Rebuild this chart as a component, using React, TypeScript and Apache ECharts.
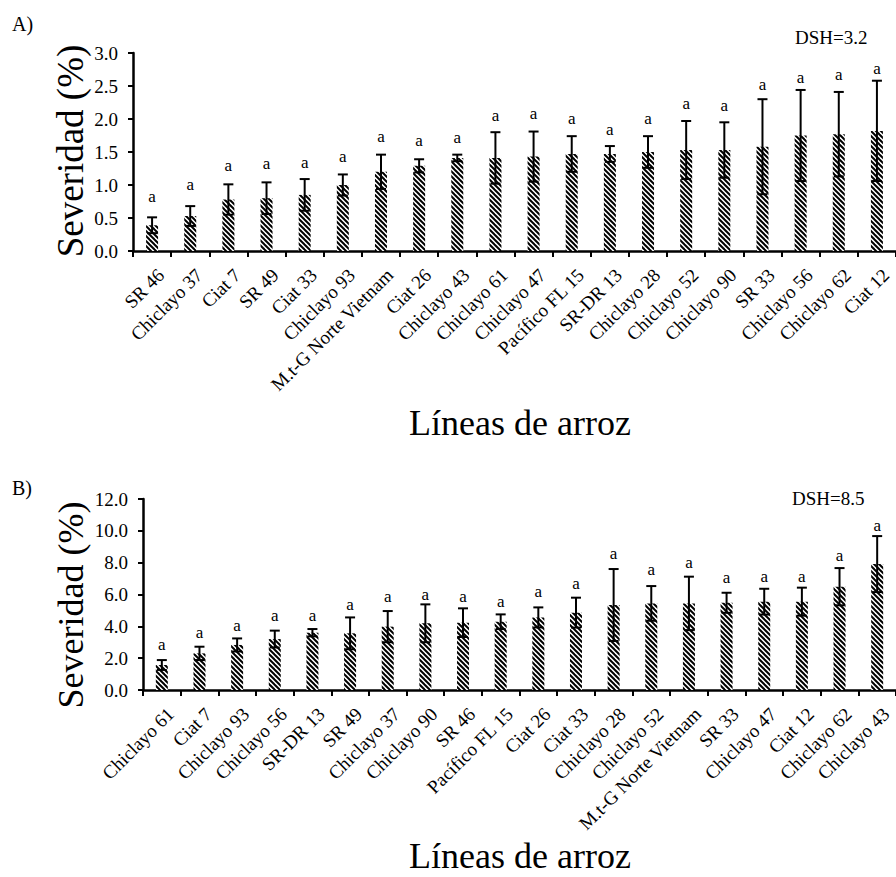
import React, { useEffect, useRef } from "react";
import * as echarts from "echarts";

// ---------- Data (A) ----------
const categoriesA = [
  "SR 46", "Chiclayo 37", "Ciat 7", "SR 49", "Ciat 33", "Chiclayo 93",
  "M.t-G Norte Vietnam", "Ciat 26", "Chiclayo 43", "Chiclayo 61", "Chiclayo 47",
  "Pacífico FL 15", "SR-DR 13", "Chiclayo 28", "Chiclayo 52", "Chiclayo 90",
  "SR 33", "Chiclayo 56", "Chiclayo 62", "Ciat 12",
];
const meansA = [0.39, 0.53, 0.78, 0.80, 0.85, 1.00, 1.20, 1.29, 1.41, 1.41, 1.43, 1.47, 1.47, 1.50, 1.53, 1.53, 1.58, 1.75, 1.77, 1.82];
const errorsA = [0.12, 0.15, 0.23, 0.24, 0.24, 0.16, 0.26, 0.10, 0.05, 0.39, 0.38, 0.27, 0.12, 0.24, 0.44, 0.42, 0.72, 0.69, 0.64, 0.76];
const letterPosA = [0.82, 1.01, 1.30, 1.33, 1.34, 1.43, 1.74, 1.67, 1.72, 2.05, 2.09, 2.01, 1.84, 2.01, 2.24, 2.20, 2.53, 2.63, 2.67, 2.77];
const lettersA = ["a", "a", "a", "a", "a", "a", "a", "a", "a", "a", "a", "a", "a", "a", "a", "a", "a", "a", "a", "a"];
const yTicksA = [0, 0.5, 1.0, 1.5, 2.0, 2.5, 3.0];

// ---------- Data (B) ----------
const categoriesB = [
  "Chiclayo 61", "Ciat 7", "Chiclayo 93", "Chiclayo 56", "SR-DR 13", "SR 49",
  "Chiclayo 37", "Chiclayo 90", "SR 46", "Pacífico FL 15", "Ciat 26", "Ciat 33",
  "Chiclayo 28", "Chiclayo 52", "M.t-G Norte Vietnam", "SR 33", "Chiclayo 47",
  "Ciat 12", "Chiclayo 62", "Chiclayo 43",
];
const meansB = [1.57, 2.30, 2.83, 3.20, 3.60, 3.56, 3.98, 4.19, 4.23, 4.29, 4.56, 4.86, 5.34, 5.44, 5.44, 5.48, 5.55, 5.55, 6.49, 7.91];
const errorsB = [0.31, 0.42, 0.41, 0.53, 0.23, 1.00, 0.98, 1.19, 0.90, 0.46, 0.63, 0.94, 2.26, 1.09, 1.68, 0.63, 0.81, 0.88, 1.17, 1.76];
const letterPosB = [2.83, 3.60, 4.08, 4.67, 4.71, 5.40, 5.86, 6.03, 5.86, 5.55, 6.18, 6.70, 8.58, 7.54, 8.04, 7.05, 7.12, 7.16, 8.42, 10.36];
const lettersB = ["a", "a", "a", "a", "a", "a", "a", "a", "a", "a", "a", "a", "a", "a", "a", "a", "a", "a", "a", "a"];
const yTicksB = [0, 2, 4, 6, 8, 10, 12];

const texts = {
  panelA: "A)",
  panelB: "B)",
  dshA: "DSH=3.2",
  dshB: "DSH=8.5",
  yTitle: "Severidad (%)",
  xTitle: "Líneas de arroz",
};

const FONT = "Liberation Serif";

function makeHatch(): string {
  const c = document.createElement("canvas");
  const s = 5;
  c.width = s;
  c.height = s;
  const ctx = c.getContext("2d")!;
  ctx.fillStyle = "#ffffff";
  ctx.fillRect(0, 0, s, s);
  ctx.strokeStyle = "#000000";
  ctx.lineWidth = 2;
  for (const k of [-s, 0, s]) {
    ctx.beginPath();
    ctx.moveTo(k - 1, -1);
    ctx.lineTo(k + s + 1, s + 1);
    ctx.stroke();
  }
  return c.toDataURL();
}

const txt = (text: string, size: number, extra: any = {}) => ({
  text,
  fontFamily: FONT,
  fontSize: size,
  fill: "#000",
  ...extra,
});

export default function App() {
  const ref = useRef<HTMLDivElement>(null);

  useEffect(() => {
    if (!ref.current) return;
    const chart = echarts.init(ref.current, null, { renderer: "svg" });
    const hatch = { image: makeHatch(), repeat: "repeat", imageWidth: 5, imageHeight: 5 } as any;

    const makeRender = (letters: string[]) => (params: any, api: any) => {
      const i = api.value(0);
      const m = api.value(1);
      const e = api.value(2);
      const ly = api.value(3);
      const top = api.coord([i, m + e]);
      const bot = api.coord([i, m - e]);
      const lp = api.coord([i, ly]);
      const cap = 5;
      const st = { stroke: "#000", lineWidth: 2 };
      return {
        type: "group",
        children: [
          { type: "line", shape: { x1: top[0], y1: top[1], x2: bot[0], y2: bot[1] }, style: st },
          { type: "line", shape: { x1: top[0] - cap, y1: top[1], x2: top[0] + cap, y2: top[1] }, style: st },
          { type: "line", shape: { x1: bot[0] - cap, y1: bot[1], x2: bot[0] + cap, y2: bot[1] }, style: st },
          {
            type: "text",
            x: lp[0],
            y: lp[1],
            style: txt(letters[params.dataIndex], 17, { align: "center", verticalAlign: "middle" }),
          },
        ],
      };
    };

    const xAxisCommon = {
      type: "category",
      axisLine: { lineStyle: { color: "#000", width: 2.5 } },
      axisTick: { show: true, length: 6, lineStyle: { color: "#000", width: 2 } },
      axisLabel: {
        interval: 0,
        rotate: 45,
        fontFamily: FONT,
        fontSize: 19,
        color: "#000",
        margin: 12,
        verticalAlign: "top",
        padding: [3, 0, 0, 0],
      },
      splitLine: { show: false },
    };
    const yAxisCommon = {
      type: "value",
      axisLine: { show: true, lineStyle: { color: "#000", width: 2.5 } },
      axisTick: { show: true, length: 5, lineStyle: { color: "#000", width: 2 } },
      axisLabel: {
        fontFamily: FONT,
        fontSize: 19,
        color: "#000",
        margin: 15,
        formatter: (v: number) => v.toFixed(1),
      },
      splitLine: { show: false },
    };

    chart.setOption({
      animation: false,
      backgroundColor: "#fff",
      grid: [
        { left: 133, top: 53, width: 772, height: 198 },
        { left: 143, top: 499, width: 754, height: 191 },
      ],
      xAxis: [
        { ...xAxisCommon, gridIndex: 0, data: categoriesA },
        { ...xAxisCommon, gridIndex: 1, data: categoriesB },
      ],
      yAxis: [
        {
          ...yAxisCommon,
          gridIndex: 0,
          min: yTicksA[0],
          max: yTicksA[yTicksA.length - 1],
          interval: yTicksA[1] - yTicksA[0],
        },
        {
          ...yAxisCommon,
          gridIndex: 1,
          min: yTicksB[0],
          max: yTicksB[yTicksB.length - 1],
          interval: yTicksB[1] - yTicksB[0],
        },
      ],
      series: [
        {
          type: "bar",
          xAxisIndex: 0,
          yAxisIndex: 0,
          data: meansA,
          barWidth: 12,
          itemStyle: { color: hatch },
        },
        {
          type: "custom",
          xAxisIndex: 0,
          yAxisIndex: 0,
          renderItem: makeRender(lettersA),
          data: meansA.map((m, i) => [i, m, errorsA[i], letterPosA[i]]),
          z: 5,
        },
        {
          type: "bar",
          xAxisIndex: 1,
          yAxisIndex: 1,
          data: meansB,
          barWidth: 12,
          itemStyle: { color: hatch },
        },
        {
          type: "custom",
          xAxisIndex: 1,
          yAxisIndex: 1,
          renderItem: makeRender(lettersB),
          data: meansB.map((m, i) => [i, m, errorsB[i], letterPosB[i]]),
          z: 5,
        },
      ],
      graphic: [
        { type: "text", x: 12, y: 24, style: txt(texts.panelA, 20, { verticalAlign: "middle" }) },
        { type: "text", x: 795, y: 37, style: txt(texts.dshA, 19, { verticalAlign: "middle" }) },
        { type: "text", x: 12, y: 488, style: txt(texts.panelB, 20, { verticalAlign: "middle" }) },
        { type: "text", x: 792, y: 498, style: txt(texts.dshB, 19, { verticalAlign: "middle" }) },
        {
          type: "text", x: 70, y: 151, rotation: Math.PI / 2,
          style: txt(texts.yTitle, 37, { align: "center", verticalAlign: "middle" }),
        },
        {
          type: "text", x: 71, y: 605, rotation: Math.PI / 2,
          style: txt(texts.yTitle, 36, { align: "center", verticalAlign: "middle" }),
        },
        {
          type: "text", x: 520, y: 423,
          style: txt(texts.xTitle, 36, { align: "center", verticalAlign: "middle" }),
        },
        {
          type: "text", x: 520, y: 856,
          style: txt(texts.xTitle, 36, { align: "center", verticalAlign: "middle" }),
        },
      ],
    });

    return () => chart.dispose();
  }, []);

  return (
    <div
      ref={ref}
      style={{ position: "absolute", left: 0, top: 0, width: 896, height: 877, background: "#fff" }}
    />
  );
}
